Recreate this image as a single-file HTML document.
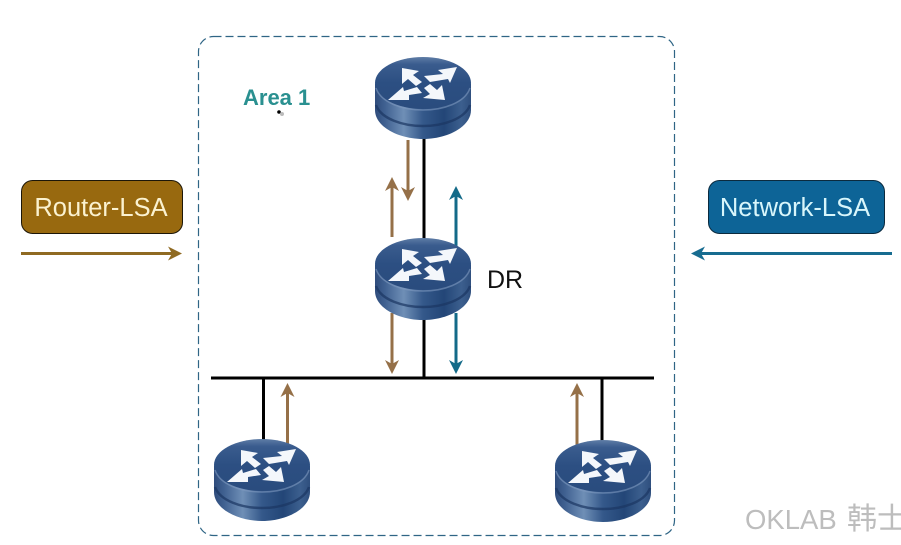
<!DOCTYPE html>
<html><head><meta charset="utf-8"><style>
html,body{margin:0;padding:0;background:#fff}
svg{display:block}
text{font-family:"Liberation Sans","Noto Sans CJK SC",sans-serif}
</style></head><body>
<svg xmlns="http://www.w3.org/2000/svg" width="901" height="545" viewBox="0 0 901 545">
<defs>
<linearGradient id="side" x1="0" x2="1" y1="0" y2="0">
<stop offset="0" stop-color="#2f4c7c"/><stop offset=".1" stop-color="#3f6090"/><stop offset=".3" stop-color="#6f8fb6"/><stop offset=".5" stop-color="#34588a"/><stop offset=".72" stop-color="#234677"/><stop offset=".9" stop-color="#3c5f8e"/><stop offset="1" stop-color="#2f4f7e"/>
</linearGradient>
<linearGradient id="top" x1="0" x2="0" y1="0" y2="1">
<stop offset="0" stop-color="#5f7da6"/><stop offset=".14" stop-color="#3a5c8e"/><stop offset=".5" stop-color="#2c4f82"/><stop offset="1" stop-color="#2a4c7e"/>
</linearGradient>
<g id="r">
<path d="M-48 27V53C-48 70-24 82 0 82S48 70 48 53V27Z" fill="url(#side)"/>
<path d="M-47 48C-42 62-20 69 0 69S42 62 47 48" fill="none" stroke="#1b3663" stroke-width="2.500" opacity=".7"/>
<ellipse cx="0" cy="26" rx="48" ry="26" fill="url(#top)"/>
<path d="M-47 31C-42 46-20 53 0 53S42 46 47 31" fill="none" stroke="#7f9abf" stroke-width="1.500" opacity=".6"/>
<g fill="#f4f7fb">
<polygon points="-21,11 -4,14 -10,18 -1,25 -7,29 -15,22 -21,27"/>
<polygon points="34,10 15,13 20,17 1,19 7,25 25,22 27,26"/>
<polygon points="-35,43 -20,30 -19,34 -6,30 -1,36 -14,38 -14,43"/>
<polygon points="22,43 0,41 7,37 1,31 7,27 14,33 19,28"/>
</g>
</g>
</defs>
<rect width="901" height="545" fill="#fff"/>
<rect x="198.500" y="36.500" width="476" height="499" rx="15" fill="none" stroke="#2f6585" stroke-width="1.200" stroke-dasharray="8 4"/>

<g stroke="#000" stroke-width="3" fill="none">
<path d="M211 378H654"/>
<path d="M424 130V245"/><path d="M424 315V378"/>
<path d="M263.500 378V445"/><path d="M602 378V445"/>
</g>
<g stroke="#957048" stroke-width="3" fill="none">
<path d="M392 237V185"/>
<path d="M408 140V193"/>
<path d="M392 313V366"/>
<path d="M287.500 445V391"/>
<path d="M577 445V391"/>
</g>
<g fill="#957048">
<path d="M392 177L399 191L392 187L385 191Z"/>
<path d="M408 201L415 187L408 191L401 187Z"/>
<path d="M392 374L399 360L392 364L385 360Z"/>
<path d="M287.500 383L294.500 397L287.500 393L280.500 397Z"/>
<path d="M577 383L584 397L577 393L570 397Z"/>
</g>
<path d="M456 246V194M456 313V366" stroke="#136a88" stroke-width="3" fill="none"/>
<g fill="#136a88">
<path d="M456 186L463 200L456 196L449 200Z"/>
<path d="M456 374L463 360L456 364L449 360Z"/>
</g>

<use href="#r" x="423" y="57"/>
<use href="#r" x="423" y="238"/>
<use href="#r" x="262" y="439"/>
<use href="#r" x="603" y="440"/>

<rect x="21.500" y="180.500" width="161" height="53" rx="11" fill="#98690f" stroke="#1c1608" stroke-width="1"/>
<text x="101" y="216" font-size="25.500" text-anchor="middle" fill="#fbf2d0">Router-LSA</text>
<rect x="708.500" y="180.500" width="176" height="53" rx="11" fill="#0d6497" stroke="#0b2a3e" stroke-width="1"/>
<text x="795" y="216" font-size="25.500" text-anchor="middle" fill="#d8f6fb">Network-LSA</text>

<path d="M21 253.500H174" stroke="#8f6a22" stroke-width="3" fill="none"/>
<path d="M182 253.500L168 246.500L172 253.500L168 260.500Z" fill="#8f6a22"/>
<path d="M892 253.500H700" stroke="#176c90" stroke-width="3" fill="none"/>
<path d="M691 253.500L705 246.500L701 253.500L705 260.500Z" fill="#176c90"/>

<text x="243" y="105" font-size="22" font-weight="bold" fill="#2a9090">Area 1</text>
<circle cx="279" cy="112" r="1.800" fill="#000"/><circle cx="282" cy="114" r="2" fill="#bbb"/>
<text x="487" y="288" font-size="25" fill="#111">DR</text>
<text x="745" y="529" font-size="27.500" fill="#bdbdbd">OKLAB<tspan font-size="30" x="847" font-family="'Noto Sans CJK SC',sans-serif">韩士</tspan></text>
</svg>
</body></html>
